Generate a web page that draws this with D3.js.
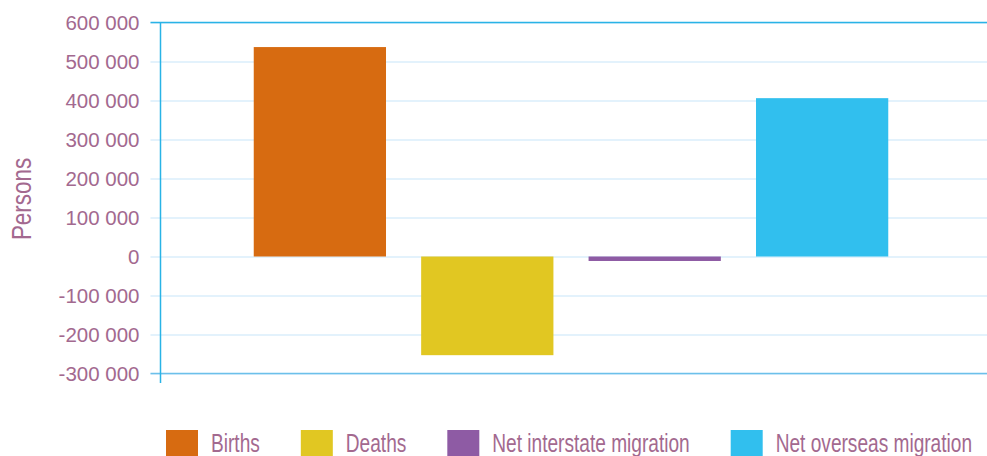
<!DOCTYPE html>
<html>
<head>
<meta charset="utf-8">
<script src="https://cdn.jsdelivr.net/npm/d3@7"></script>
<style>
  html, body { margin: 0; padding: 0; background: #fff; }
  svg { display: block; }
</style>
</head>
<body>
<svg id="chart"></svg>
<script>
// components of population change, persons
const categories = ['Births', 'Deaths', 'Net interstate migration', 'Net overseas migration']
const values = [537000, -253000, -11500, 406000]
const colors = ['#d76b11', '#e1c722', '#8e5ba4', '#31bfee']
const yTicks = [-300000, -200000, -100000, 0, 100000, 200000, 300000, 400000, 500000, 600000]
const yLabel = 'Persons'

const width = 987
const height = 456
const txtColor = '#a3698f'
const fontFamily = '"Liberation Sans", Arial, sans-serif'

const svg = d3.select('#chart')
  .attr('width', width)
  .attr('height', height)
  .attr('viewBox', [0, 0, width, height])

const x = d3.scaleBand()
  .domain(categories)
  .range([237, 905])
  .paddingInner(0.21)
  .paddingOuter(0.1)

const y = d3.scaleLinear()
  .domain([-300000, 600000])
  .range([373.5, 22.5])

const locale = d3.formatLocale({decimal: '.', thousands: ' ', grouping: [3], currency: ['', ''], minus: '-'})
const fmt = locale.format(',')

const axisX = 160.5

// gridlines + tick labels
const yAxis = d3.axisLeft(y)
  .tickValues(yTicks)
  .tickFormat(fmt)
  .tickSize(10)
  .tickPadding(11)

svg.append('g')
  .attr('transform', `translate(${axisX},0)`)
  .call(yAxis)
  .call(g => g.select('.domain').remove())
  .call(g => g.selectAll('.tick line')
    .attr('x1', -10)
    .attr('x2', width - axisX)
    .attr('stroke', '#e3f2fc')
    .attr('stroke-width', 2))
  .call(g => g.selectAll('.tick text')
    .attr('fill', txtColor)
    .attr('font-family', fontFamily)
    .attr('font-size', 20.5))

// top and bottom frame lines
svg.append('line')
  .attr('x1', axisX - 10).attr('x2', width)
  .attr('y1', y(600000)).attr('y2', y(600000))
  .attr('stroke', '#29b3e6').attr('stroke-width', 1.5)

svg.append('line')
  .attr('x1', axisX - 10).attr('x2', width)
  .attr('y1', y(-300000)).attr('y2', y(-300000))
  .attr('stroke', '#6cc0ea').attr('stroke-width', 1.5)

// bars
svg.append('g')
  .selectAll('rect')
  .data(categories)
  .join('rect')
  .attr('x', d => x(d))
  .attr('width', x.bandwidth())
  .attr('y', (d, i) => y(Math.max(0, values[i])))
  .attr('height', (d, i) => Math.abs(y(values[i]) - y(0)))
  .attr('fill', (d, i) => colors[i])

// left axis line
svg.append('line')
  .attr('x1', axisX).attr('x2', axisX)
  .attr('y1', y(600000)).attr('y2', 383)
  .attr('stroke', '#29b3e6').attr('stroke-width', 1.5)

// y label
svg.append('text')
  .attr('transform', `translate(31,199) rotate(-90) scale(0.83,1)`)
  .attr('text-anchor', 'middle')
  .attr('fill', txtColor)
  .attr('font-family', fontFamily)
  .attr('font-size', 27)
  .text(yLabel)

// legend, laid out left to right
const legend = svg.append('g')
const sx = 0.735
let lx = 166
categories.forEach((c, i) => {
  legend.append('rect')
    .attr('x', lx).attr('y', 430)
    .attr('width', 32).attr('height', 30)
    .attr('fill', colors[i])
  const t = legend.append('text')
    .attr('transform', `translate(${lx + 45},452) scale(${sx},1)`)
    .attr('fill', txtColor)
    .attr('font-family', fontFamily)
    .attr('font-size', 26)
    .text(c)
  lx += 45 + t.node().getComputedTextLength() * sx + 41
})
</script>
</body>
</html>
